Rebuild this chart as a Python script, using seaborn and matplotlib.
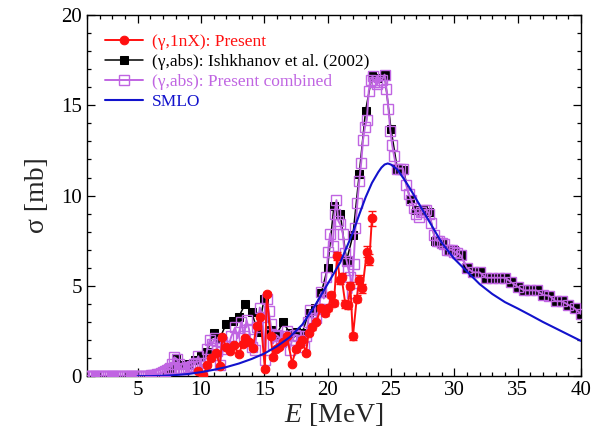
import numpy as np
import pandas as pd
import matplotlib
matplotlib.use("Agg")
import matplotlib.pyplot as plt
import seaborn as sns
from matplotlib.ticker import MultipleLocator

# (g,1nX): Present
red_e = [9.8, 10.2, 10.5, 10.8, 11.2, 11.5, 11.7, 12.0, 12.3, 12.6, 13.0, 13.3, 13.5, 13.8,
         14.1, 14.4, 14.7, 15.05, 15.2, 15.5, 15.7, 15.9, 16.15, 16.5, 16.8, 17.2, 17.5, 17.8,
         18.0, 18.3, 18.5, 18.8, 19.1, 19.45, 19.8, 20.05, 20.3, 20.5, 20.75, 20.97, 21.1, 21.4,
         21.6, 21.8, 22.0, 22.3, 22.5, 22.75, 23.1, 23.3, 23.5]
red_s = [0.3, 0.05, 0.6, 0.98, 1.3, 0.58, 2.15, 1.6, 1.4, 1.7, 1.22, 1.8, 2.12, 1.9,
         1.55, 2.8, 3.3, 0.4, 4.56, 2.2, 1.05, 1.5, 1.63, 1.9, 2.2, 0.7, 1.5, 1.8,
         2.0, 1.27, 2.4, 2.7, 3.0, 3.75, 3.47, 3.75, 4.5, 4.06, 6.65, 5.3, 5.5, 4.0,
         3.93, 5.0, 2.2, 4.3, 5.35, 4.86, 6.9, 6.45, 8.74]
red_err = [0.05, 0.05, 0.05, 0.05, 0.05, 0.05, 0.08, 0.08, 0.08, 0.08, 0.08, 0.08, 0.08, 0.08,
           0.08, 0.1, 0.1, 0.08, 0.12, 0.1, 0.1, 0.1, 0.1, 0.1, 0.1, 0.1, 0.1, 0.1,
           0.1, 0.1, 0.12, 0.12, 0.12, 0.15, 0.15, 0.15, 0.15, 0.15, 0.2, 0.2, 0.2, 0.2,
           0.2, 0.2, 0.2, 0.2, 0.25, 0.25, 0.3, 0.3, 0.4]

# (g,abs): Ishkhanov et al. (2002)
blk_e = [7.5, 8.0, 8.5, 9.0, 9.5, 10.0, 10.5, 11.0, 11.5, 12.0, 12.5, 13.0, 13.5, 14.0,
         14.5, 15.0, 15.5, 16.0, 16.5, 17.0, 17.5, 18.0, 18.5, 19.0, 19.5, 20.0, 20.5, 21.0,
         21.5, 22.0, 22.5, 23.0, 23.5, 24.0, 24.5, 25.0, 25.5, 26.0, 26.5, 27.0, 27.5, 28.0,
         28.5, 29.0, 29.5, 30.0, 30.5, 31.0, 31.5, 32.0, 32.5, 33.0, 33.5, 34.0, 34.5, 35.0,
         35.5, 36.0, 36.5, 37.0, 37.5, 38.0, 38.5, 39.0, 39.5, 40.0]
blk_s = [0.45, 1.0, 0.6, 0.7, 0.9, 1.1, 1.35, 2.4, 2.1, 2.9, 3.05, 3.3, 4.0, 3.55,
         2.45, 4.3, 2.55, 2.35, 3.0, 2.4, 2.45, 2.4, 3.5, 3.8, 4.6, 6.0, 9.4, 9.0,
         6.4, 7.8, 11.2, 14.7, 16.6, 16.5, 16.7, 13.7, 11.5, 11.4, 9.8, 9.2, 9.2, 9.1,
         7.5, 7.4, 7.0, 7.0, 6.7, 6.0, 5.75, 5.75, 5.45, 5.45, 5.45, 5.45, 5.2, 4.95,
         4.75, 4.75, 4.75, 4.5, 4.45, 4.15, 4.15, 3.95, 3.75, 3.45]

# (g,abs): Present combined
cmb_e = [1.0, 1.15, 1.3, 1.45, 1.6, 1.75, 1.9, 2.05, 2.2, 2.35, 2.5, 2.65, 2.8, 2.95, 3.1,
         3.25, 3.4, 3.55, 3.7, 3.85, 4.0, 4.15, 4.3, 4.45, 4.6, 4.75, 4.9, 5.05, 5.2, 5.35,
         5.5, 5.65, 5.8, 5.95, 6.1, 6.25, 6.4, 6.55, 6.7, 6.85, 7.0, 7.15, 7.3, 7.45, 7.6,
         7.75, 7.9, 8.1, 8.25, 8.4, 8.55, 8.7, 8.85, 9.0, 9.15, 9.3, 9.45, 9.6, 9.8, 10.05, 10.3,
         10.5, 10.7, 10.9, 11.1, 11.3, 11.5, 11.7, 11.9, 12.1, 12.4, 12.7, 12.9, 13.2, 13.4,
         13.6, 13.8, 14.0, 14.25, 14.45, 14.65, 14.85, 15.05, 15.2, 15.35, 15.5, 15.7, 15.9,
         16.1, 16.35, 16.6, 16.8, 17.0, 17.2, 17.45, 17.7, 17.9, 18.1, 18.3, 18.45, 18.6,
         18.85, 19.1, 19.3, 19.5, 19.7, 19.9, 20.05, 20.2, 20.4, 20.55, 20.7, 20.85, 21.0,
         21.2, 21.35, 21.5, 21.65, 21.8, 21.9, 22.05, 22.2, 22.35, 22.5, 22.65, 22.8, 22.95,
         23.1, 23.25, 23.4, 23.55, 23.7, 23.9, 24.1, 24.3, 24.5, 24.65, 24.8, 24.95, 25.1,
         25.25, 25.45, 25.7, 25.95, 26.2, 26.4, 26.6, 26.8, 27.0, 27.2, 27.4, 27.6, 27.8,
         28.0, 28.2, 28.4, 28.6, 28.8, 29.0, 29.2, 29.4, 29.6, 29.8, 30.0, 30.25, 30.5,
         31.0, 31.5, 32.0, 32.5, 33.0, 33.5, 34.0, 34.5, 35.0, 35.5, 36.0, 36.5, 37.0,
         37.5, 38.0, 38.5, 39.0, 39.5, 40.0]
cmb_s = [0.0, 0.0, 0.0, 0.0, 0.0, 0.0, 0.0, 0.0, 0.0, 0.0, 0.0, 0.0, 0.0, 0.0, 0.0,
         0.0, 0.0, 0.0, 0.0, 0.0, 0.0, 0.0, 0.0, 0.0, 0.0, 0.0, 0.0, 0.0, 0.0, 0.0,
         0.0, 0.01, 0.02, 0.03, 0.04, 0.06, 0.08, 0.1, 0.14, 0.18, 0.24, 0.28, 0.32, 0.38, 0.45,
         0.7, 1.05, 0.95, 0.7, 0.45, 0.42, 0.4, 0.45, 0.5, 0.52, 0.55, 0.65, 0.75, 1.1, 0.4, 0.75,
         1.5, 2.0, 1.8, 2.1, 1.4, 0.6, 1.9, 1.65, 1.5, 2.2, 2.7, 2.1, 3.0, 2.2,
         3.1, 2.6, 1.6, 1.45, 2.7, 3.8, 3.3, 0.9, 4.3, 3.6, 2.9, 1.8, 2.3,
         2.2, 1.9, 2.2, 2.5, 1.45, 2.0, 2.3, 2.25, 2.0, 1.6, 2.2, 3.0, 3.65,
         3.2, 3.2, 3.7, 4.65, 4.3, 5.5, 6.9, 7.9, 7.2, 9.0, 9.75, 8.6, 8.4,
         7.9, 6.8, 6.4, 5.9, 5.5, 4.6, 6.2, 8.2, 9.6, 10.8, 11.8, 13.1, 13.8,
         14.2, 15.8, 16.4, 16.6, 16.3, 16.2, 16.3, 16.4, 16.7, 15.9, 14.8, 13.6, 12.8,
         12.2, 11.5, 11.5, 11.5, 10.6, 10.1, 9.75, 9.3, 9.0, 8.8, 9.1, 9.2, 9.2,
         9.0, 8.5, 7.8, 7.5, 7.5, 7.4, 7.3, 7.0, 7.0, 7.0, 6.9, 6.8, 6.7,
         6.0, 5.75, 5.75, 5.45, 5.45, 5.45, 5.45, 5.2, 4.95, 4.75, 4.75, 4.75, 4.5,
         4.45, 4.15, 4.15, 3.95, 3.75, 3.45]

# SMLO
smlo_e = [5, 6, 7, 8, 9, 10, 11, 12, 13, 14, 15, 16, 17, 18, 19, 20, 21, 22, 22.5, 23, 23.5,
          24, 24.25, 24.5, 24.75, 25, 25.5, 26, 26.5, 27, 27.5, 28, 29, 30, 31, 32, 33, 34,
          35, 36, 37, 38, 39, 40]
smlo_s = [0.0, 0.0, 0.02, 0.06, 0.12, 0.22, 0.35, 0.5, 0.7, 0.95, 1.25, 1.65, 2.15, 2.85,
          3.9, 5.1, 6.3, 7.95, 8.95, 9.9, 10.7, 11.3, 11.55, 11.72, 11.78, 11.72, 11.45,
          10.95, 10.4, 9.8, 9.2, 8.6, 7.4, 6.5, 5.8, 5.1, 4.55, 4.1, 3.75, 3.38, 3.0, 2.65,
          2.3, 1.95]

RED = '#ff1010'
PURPLE = '#c065e2'
BLUE = '#1212cc'

sns.set_theme(style='ticks')
plt.rcParams['font.family'] = ['Liberation Serif', 'DejaVu Serif']
plt.rcParams['mathtext.fontset'] = 'custom'
plt.rcParams['mathtext.rm'] = 'Liberation Serif'
plt.rcParams['mathtext.it'] = 'Liberation Serif:italic'

fig = plt.figure(figsize=(5.91, 4.42), dpi=100)
ax = fig.add_axes([0.147, 0.149, 0.836, 0.817])

df_blk = pd.DataFrame({'E': blk_e, 's': blk_s})
df_cmb = pd.DataFrame({'E': cmb_e, 's': cmb_s})
df_red = pd.DataFrame({'E': red_e, 's': red_s, 'err': red_err})
df_smlo = pd.DataFrame({'E': smlo_e, 's': smlo_s})

sns.lineplot(data=df_blk, x='E', y='s', ax=ax, color='black', lw=1.1, marker='s',
             markersize=5.5, markeredgecolor='black', label='(γ,abs): Ishkhanov et al. (2002)',
             zorder=2)
sns.lineplot(data=df_cmb, x='E', y='s', ax=ax, color=PURPLE, lw=1.4, marker='s',
             markersize=6.5, markerfacecolor='none', markeredgecolor=PURPLE,
             markeredgewidth=1.0, label='(γ,abs): Present combined', zorder=3)
ax.errorbar(df_red['E'], df_red['s'], yerr=df_red['err'], fmt='none', ecolor=RED,
            elinewidth=1.0, capsize=3, zorder=4)
sns.lineplot(data=df_red, x='E', y='s', ax=ax, color=RED, lw=1.4, marker='o',
             markersize=6.2, markeredgecolor=RED, label='(γ,1nX): Present', zorder=4)
sns.lineplot(data=df_smlo, x='E', y='s', ax=ax, color=BLUE, lw=1.5, label='SMLO', zorder=5)

ax.set_xlim(1, 40)
ax.set_ylim(0, 20)
ax.xaxis.set_major_locator(MultipleLocator(5))
ax.xaxis.set_minor_locator(MultipleLocator(1))
ax.yaxis.set_major_locator(MultipleLocator(5))
ax.yaxis.set_minor_locator(MultipleLocator(1))
ax.tick_params(which='both', direction='in', top=True, right=True, colors='black',
               labelsize=15, width=0.9)
ax.tick_params(which='major', length=6)
ax.tick_params(which='minor', length=3)
for sp in ax.spines.values():
    sp.set_color('black')
    sp.set_linewidth(1.0)

ax.set_xlabel(r'$E$ [MeV]', fontsize=20, labelpad=1)
ax.set_ylabel('σ [mb]', fontsize=20, labelpad=8)

handles, labels = ax.get_legend_handles_labels()
order = [labels.index(l) for l in ['(γ,1nX): Present', '(γ,abs): Ishkhanov et al. (2002)',
                                   '(γ,abs): Present combined', 'SMLO']]
ax.legend([handles[i] for i in order], [labels[i] for i in order], loc='upper left',
          bbox_to_anchor=(0.037, 0.948), frameon=False, fontsize=12.5, labelcolor='linecolor',
          handlelength=2.2, handletextpad=0.5, labelspacing=0.22, borderaxespad=0,
          borderpad=0)

fig.savefig('out.png', dpi=100)
